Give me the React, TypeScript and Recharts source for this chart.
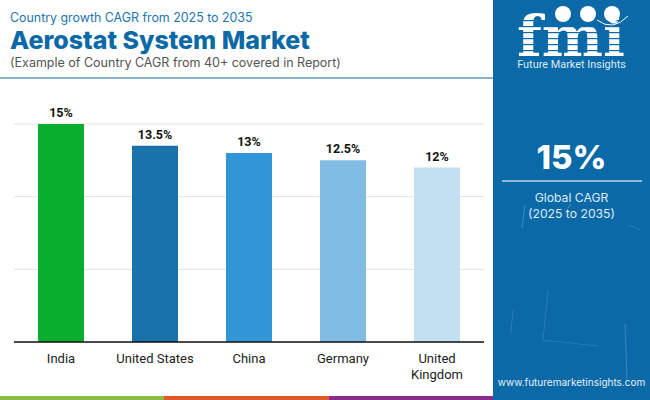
import { Bar, BarChart, CartesianGrid, Cell, LabelList, XAxis, YAxis } from "recharts";

const countries = ["India", "United States", "China", "Germany", "United Kingdom"];
const cagr = [15, 13.5, 13, 12.5, 12];
const barColors = ["#0aae2e", "#1a72ab", "#3096d6", "#80bce4", "#c3e0f3"];
const yTicks = [0, 5, 10, 15];
const stripes = ["#8abb45", "#dc5a2b", "#8a2b8e"];

const data = countries.map((name, i) => ({ name, value: cagr[i] }));

const PANEL = "#0b69a8";
const poppins = "Inter, 'Open Sans', sans-serif";

function CountryTick({ x, y, payload }: any) {
  const words = payload.value.length > 13 ? payload.value.split(" ") : [payload.value];
  return (
    <text x={x} textAnchor="middle" fontFamily="Roboto" fontSize={13} fill="#222">
      {words.map((w: string, i: number) => (
        <tspan key={w} x={x} y={y + 13 + i * 16}>
          {w}
        </tspan>
      ))}
    </text>
  );
}

function Logo() {
  return (
    <svg width={157} height={60} style={{ position: "absolute", left: 493, top: 0, overflow: "visible" }}>
      <text x={24} y={56} fontFamily="'DejaVu Serif'" fontWeight={700} fontSize={56} fill="#fff" textLength={108} lengthAdjust="spacingAndGlyphs">
        fmi
      </text>
      {[20, 26, 32, 38, 44, 50].map((y) => (
        <rect key={y} x={0} y={y} width={157} height={1.2} fill={PANEL} />
      ))}
      <circle cx={70} cy={14} r={8} fill="#fff" />
      <circle cx={95} cy={14} r={8} fill="#fff" />
      <circle cx={119} cy={14} r={8} fill="#fff" />
      <path d="M104 20 Q120 32 135 16" fill="none" stroke="#fff" strokeWidth={1} />
    </svg>
  );
}

export default function App() {
  return (
    <div style={{ position: "absolute", left: 0, top: 0, width: 650, height: 400, background: "#fff", overflow: "hidden" }}>
      <div style={{ position: "absolute", left: 10, top: 10, fontFamily: poppins, fontSize: 12.4, color: "#1c75ad", whiteSpace: "nowrap" }}>
        Country growth CAGR from 2025 to 2035
      </div>
      <div style={{ position: "absolute", left: 10, top: 25, fontFamily: poppins, fontSize: 25, fontWeight: 800, color: "#0b69a8", whiteSpace: "nowrap" }}>
        Aerostat System Market
      </div>
      <div style={{ position: "absolute", left: 10, top: 55, fontFamily: poppins, fontSize: 12.5, color: "#555", whiteSpace: "nowrap" }}>
        (Example of Country CAGR from 40+ covered in Report)
      </div>
      <div style={{ position: "absolute", left: 0, top: 77, width: 493, height: 2, background: "#8ab0cc" }} />

      <div style={{ position: "absolute", left: 0, top: 0 }}>
        <BarChart width={650} height={400} data={data} margin={{ top: 124, right: 166, bottom: 0, left: 14 }} barSize={46}>
          <CartesianGrid horizontal vertical={false} stroke="#e4e4e4" />
          <YAxis hide domain={[0, 15]} ticks={yTicks} />
          <XAxis dataKey="name" height={58} interval={0} axisLine={{ stroke: "#111", strokeWidth: 1.5 }} tickLine={false} tick={<CountryTick />} />
          <Bar dataKey="value" isAnimationActive={false}>
            {data.map((d, i) => (
              <Cell key={d.name} fill={barColors[i]} />
            ))}
            <LabelList dataKey="value" position="top" offset={7} formatter={(v: any) => `${v}%`} fontFamily="Roboto" fontWeight={700} fontSize={12.5} fill="#111" />
          </Bar>
        </BarChart>
      </div>

      {stripes.map((c, i) => (
        <div key={c} style={{ position: "absolute", left: i * 164.4, top: 396, width: 164.4, height: 4, background: c }} />
      ))}

      <div style={{ position: "absolute", left: 493, top: 0, width: 157, height: 400, background: PANEL }} />
      <svg width={157} height={250} style={{ position: "absolute", left: 493, top: 150 }}>
        <g stroke="#fff" strokeOpacity={0.12} strokeWidth={1} fill="none">
          <path d="M32 55 L29 78" strokeOpacity={0.22} />
          <path d="M135 75 L148 80" />
          <path d="M55 140 L50 190 L105 196" />
          <path d="M132 174 L134 230" strokeOpacity={0.2} />
          <path d="M78 54 L75 58" strokeOpacity={0.3} />
          <path d="M20 160 L18 182" />
        </g>
      </svg>
      <Logo />
      <div style={{ position: "absolute", left: 493, top: 58, width: 157, textAlign: "center", fontFamily: "Roboto", fontSize: 10.9, color: "#dcebf6" }}>
        Future Market Insights
      </div>

      <div style={{ position: "absolute", left: 493, top: 137, width: 157, textAlign: "center", fontFamily: poppins, fontSize: 33, fontWeight: 800, color: "#fff" }}>
        15%
      </div>
      <div style={{ position: "absolute", left: 502, top: 180, width: 140, height: 2, background: "#8dbbdc" }} />
      <div style={{ position: "absolute", left: 493, top: 190, width: 157, textAlign: "center", fontFamily: poppins, fontSize: 12.2, lineHeight: "16px", color: "#dcebf6" }}>
        Global CAGR
        <br />
        (2025 to 2035)
      </div>
      <div style={{ position: "absolute", left: 493, top: 376, width: 157, textAlign: "center", fontFamily: poppins, fontSize: 10, color: "#e6f0f8", whiteSpace: "nowrap" }}>
        www.futuremarketinsights.com
      </div>
    </div>
  );
}
